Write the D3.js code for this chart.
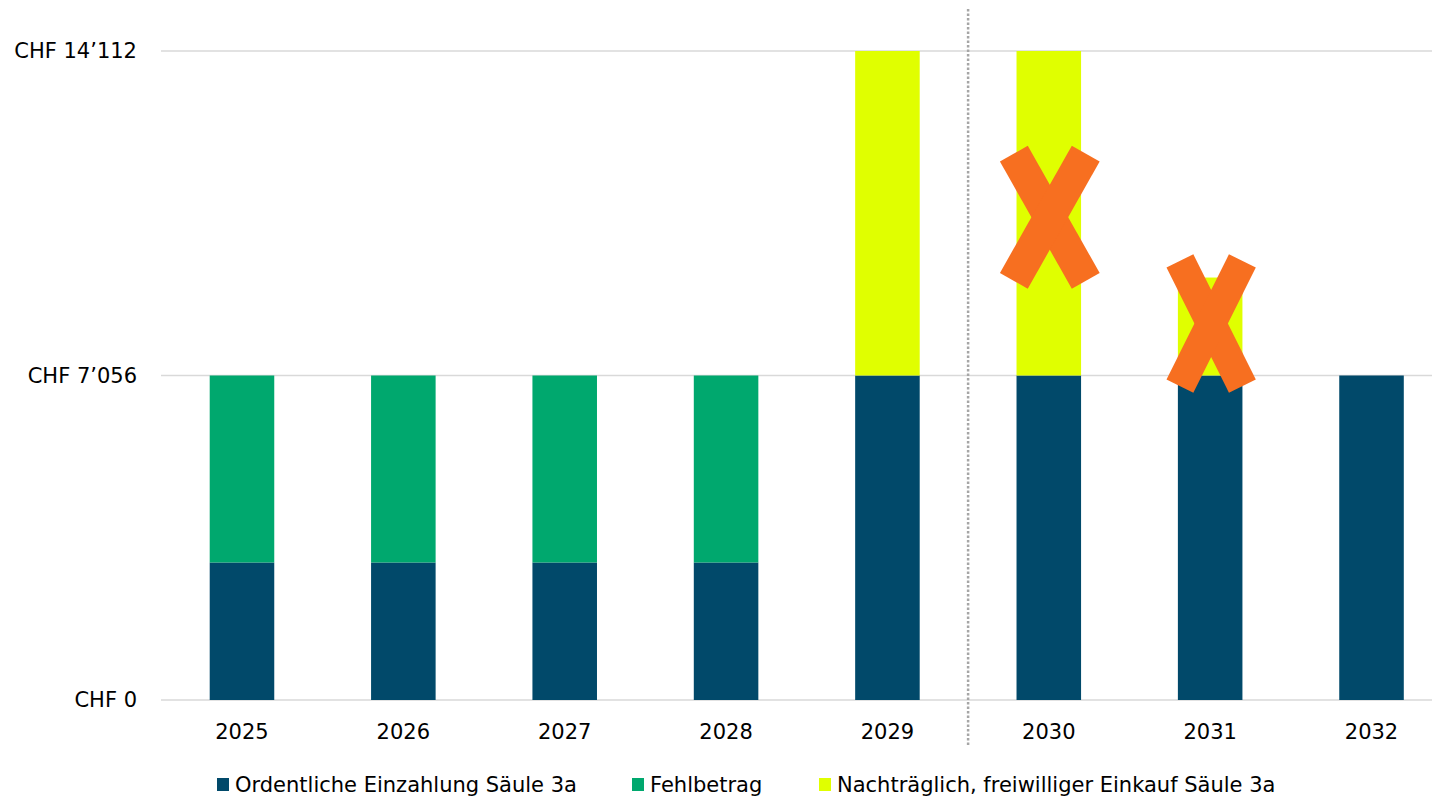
<!DOCTYPE html>
<html>
<head>
<meta charset="utf-8">
<script src="https://cdn.jsdelivr.net/npm/d3@7"></script>
<style>
    body { margin: 0; background: #fff; }
    svg text { font-family: Tahoma, "DejaVu Sans", sans-serif; fill: #000; }
</style>
</head>
<body>
<div id="chart"></div>
<script>
// Data
const years = ['2025', '2026', '2027', '2028', '2029', '2030', '2031', '2032'];
const ordentlich = [2990, 2990, 2990, 2990, 7056, 7056, 7056, 7056];
const fehlbetrag = [4066, 4066, 4066, 4066, 0, 0, 0, 0];
const einkauf = [0, 0, 0, 0, 7056, 7056, 2130, 0];
const yTicks = [0, 7056, 14112];
const yTickLabels = ['CHF 0', 'CHF 7’056', 'CHF 14’112'];
const crossedYears = ['2030', '2031'];
const seriesNames = ['Ordentliche Einzahlung Säule 3a', 'Fehlbetrag', 'Nachträglich, freiwilliger Einkauf Säule 3a'];
const seriesColors = ['#01496a', '#00a86e', '#e0ff00'];

const W = 1432, H = 799;
const svg = d3.select('#chart').append('svg')
    .attr('width', W)
    .attr('height', H);

const x = d3.scaleBand()
    .domain(years)
    .range([161.3, 1452.2])
    .paddingInner(0.6)
    .paddingOuter(0.3);

const y = d3.scaleLinear()
    .domain([0, 14112])
    .range([700, 51]);

// gridlines
svg.append('g')
    .selectAll('line')
    .data(yTicks)
    .join('line')
    .attr('x1', 161).attr('x2', W)
    .attr('y1', d => y(d)).attr('y2', d => y(d))
    .attr('stroke', '#d9d9d9')
    .attr('stroke-width', 1.5);

// y labels
svg.append('g')
    .selectAll('text')
    .data(yTicks)
    .join('text')
    .attr('x', 137)
    .attr('y', d => y(d))
    .attr('dy', '0.35em')
    .attr('text-anchor', 'end')
    .style('font-size', '21px')
    .text((d, i) => yTickLabels[i]);

// stacked bars
const rows = years.map((yr, i) => ({ year: yr, s0: ordentlich[i], s1: fehlbetrag[i], s2: einkauf[i] }));
const stack = d3.stack().keys(['s0', 's1', 's2'])(rows);

svg.append('g')
    .selectAll('g')
    .data(stack)
    .join('g')
    .attr('fill', (d, i) => seriesColors[i])
    .selectAll('rect')
    .data(d => d.filter(v => v[1] > v[0]))
    .join('rect')
    .attr('x', d => x(d.data.year))
    .attr('width', x.bandwidth())
    .attr('y', d => y(d[1]))
    .attr('height', d => y(d[0]) - y(d[1]));

// dotted separator between 2029 and 2030
const sepX = x('2029') + x.bandwidth() + (x.step() - x.bandwidth()) / 2;
svg.append('line')
    .attr('x1', sepX).attr('x2', sepX)
    .attr('y1', 9).attr('y2', 747)
    .attr('stroke', '#a6a6a6')
    .attr('stroke-width', 2.5)
    .attr('stroke-dasharray', '2.5 2');

// orange crosses over the voluntary buy-in of 2030 and 2031
const crossSize = {
    '2030': { len: 146, thick: 32, ang: 60.5, dy: 4 },
    '2031': { len: 140, thick: 30, ang: 63.5, dy: -3 }
};
crossedYears.forEach(yr => {
    const i = years.indexOf(yr);
    const base = ordentlich[i] + fehlbetrag[i];
    const c = crossSize[yr];
    const cx = x(yr) + x.bandwidth() / 2 + 1;
    const cy = y(base + einkauf[i] / 2) + c.dy;
    const g = svg.append('g').attr('transform', `translate(${cx},${cy})`);
    [c.ang, 180 - c.ang].forEach(a => {
        g.append('rect')
            .attr('x', -c.len / 2).attr('y', -c.thick / 2)
            .attr('width', c.len).attr('height', c.thick)
            .attr('fill', '#f76f20')
            .attr('transform', `rotate(${a})`);
    });
});

// x labels
svg.append('g')
    .selectAll('text')
    .data(years)
    .join('text')
    .attr('x', d => x(d) + x.bandwidth() / 2)
    .attr('y', 732)
    .attr('dy', '0.35em')
    .attr('text-anchor', 'middle')
    .style('font-size', '21px')
    .text(d => d);

// legend
const legendX = [217, 632, 819];
const legend = svg.append('g')
    .selectAll('g')
    .data(seriesNames)
    .join('g')
    .attr('transform', (d, i) => `translate(${legendX[i]},778)`);

legend.append('rect')
    .attr('width', 12).attr('height', 13)
    .attr('fill', (d, i) => seriesColors[i]);

legend.append('text')
    .attr('x', 18)
    .attr('y', 7)
    .attr('dy', '0.35em')
    .style('font-size', '21px')
    .text(d => d);
</script>
</body>
</html>
